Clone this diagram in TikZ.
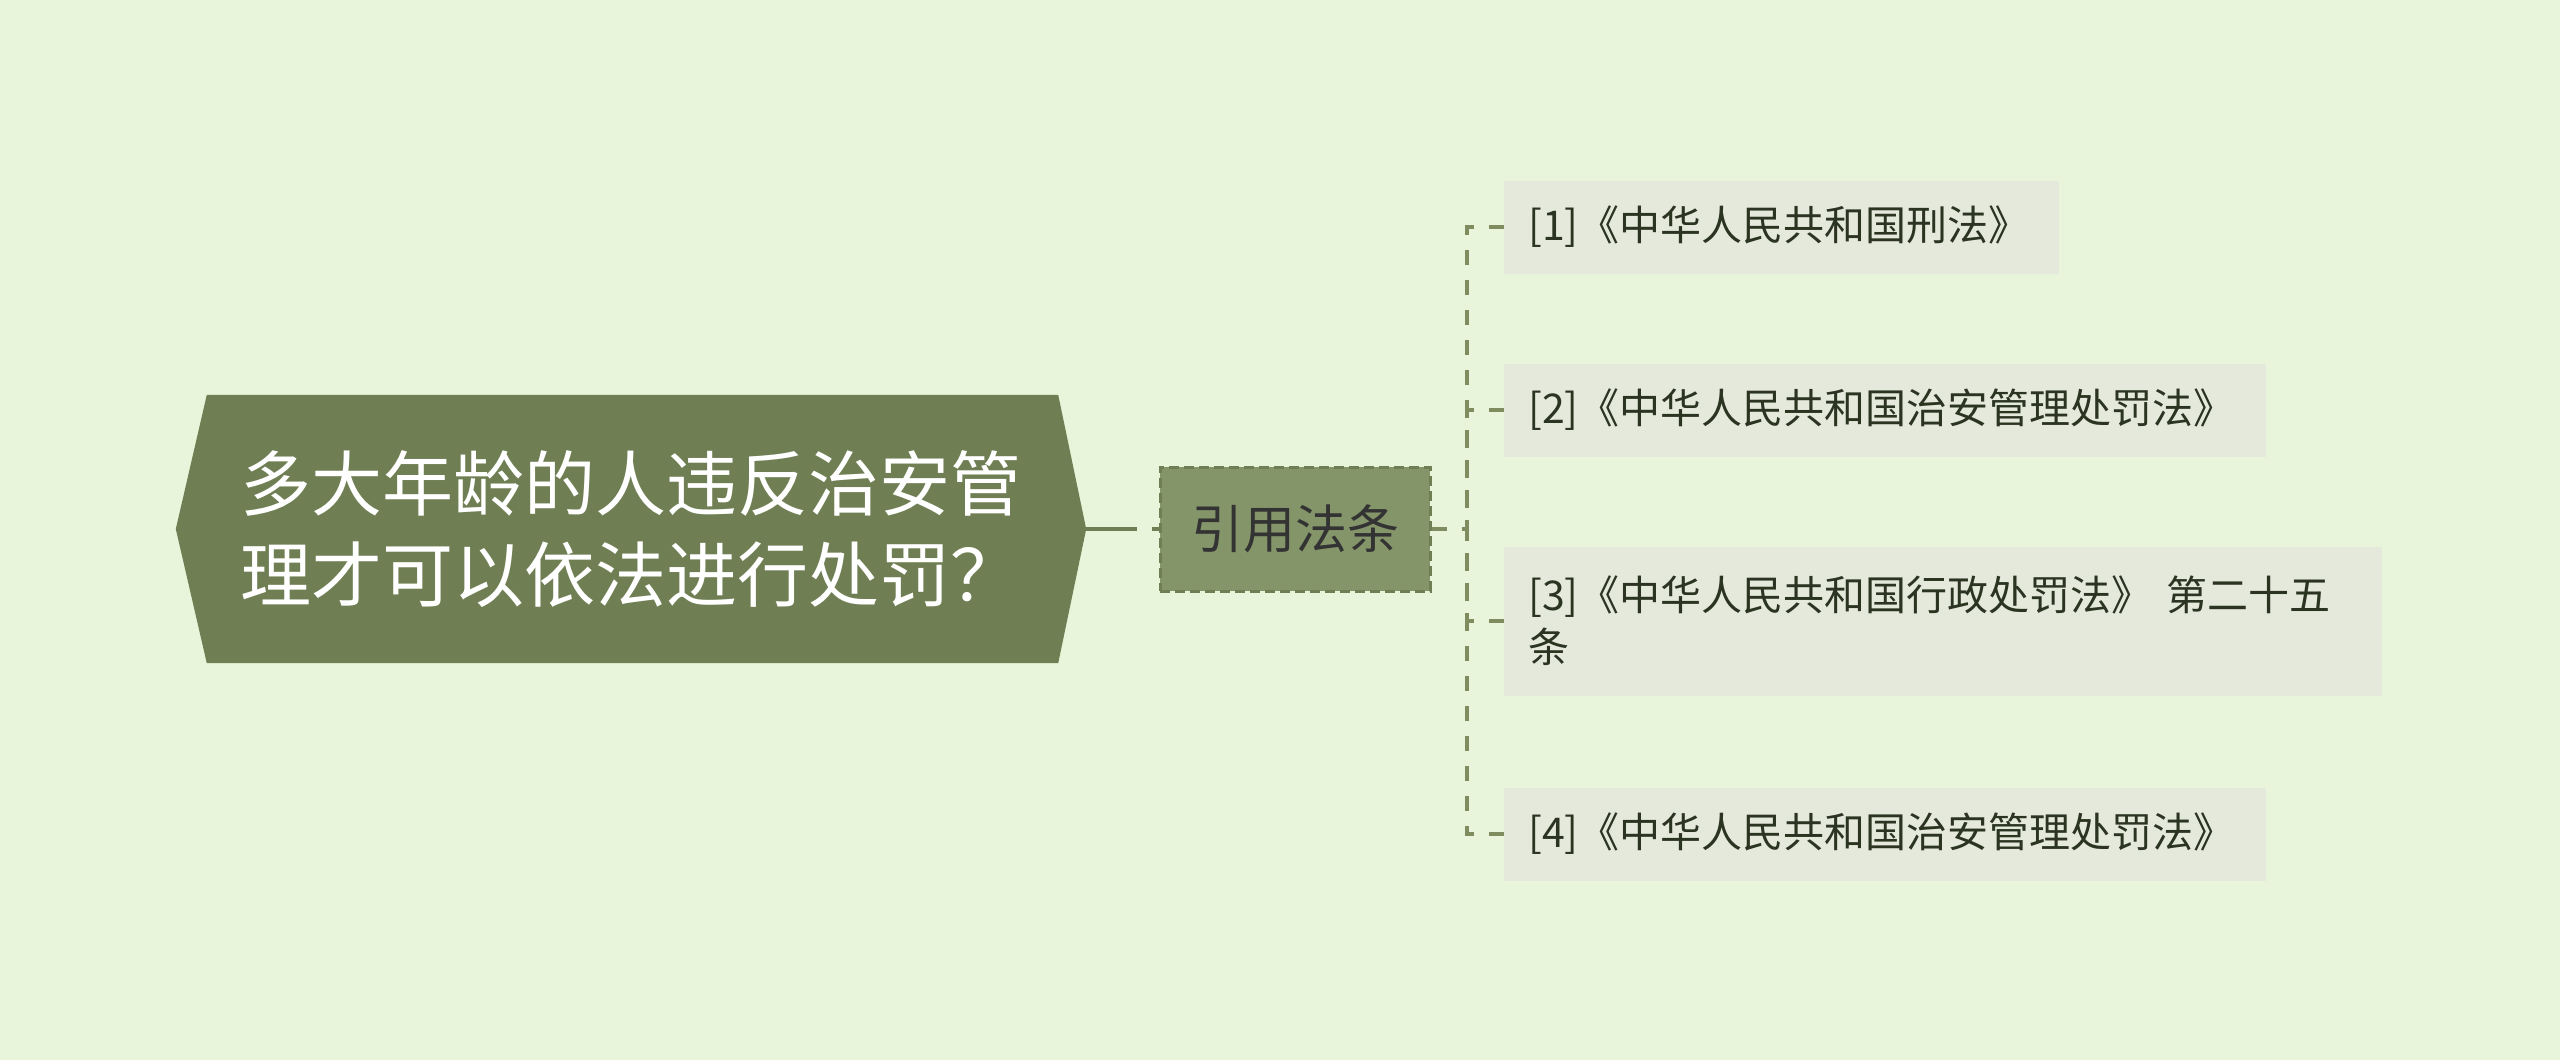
\documentclass[tikz,border=0pt]{standalone}
\usepackage{fontspec}
\setmainfont{Noto Sans CJK SC}
\usetikzlibrary{backgrounds}
\definecolor{bgc}{HTML}{E8F5DB}
\definecolor{mainc}{HTML}{6F7F53}
\definecolor{subc}{HTML}{84956A}
\definecolor{subline}{HTML}{6F7F53}
\definecolor{leafc}{HTML}{E5E9DC}
\definecolor{linec}{HTML}{7F8C60}
\definecolor{leaftext}{HTML}{2B3321}
\definecolor{subtext}{HTML}{333333}
\begin{document}
\begin{tikzpicture}[x=1pt,y=-1pt,
  mainbox/.style={text=white, font=\fontsize{71}{91}\selectfont, align=left,
    inner xsep=33pt, inner ysep=0pt, text width=785pt,
    minimum width=851pt, minimum height=268pt},
  subbox/.style={draw=subline, fill=subc, line width=3pt, dash pattern=on 10pt off 5pt,
    minimum width=270pt, minimum height=124pt, inner sep=0pt, text=subtext,
    font=\fontsize{52}{60}\selectfont},
  leafbox/.style={fill=leafc, anchor=west, inner xsep=24pt, inner ysep=0pt,
    minimum height=93pt, align=left, text=leaftext, font=\fontsize{41}{52}\selectfont},
  conn1/.style={draw=mainc, line width=4.5pt, dash pattern=on 51pt off 15pt},
  conn2/.style={draw=linec, line width=4pt, dash pattern=on 15pt off 15pt},
]
\useasboundingbox (0,0) rectangle (2560,1060);
\node[mainbox] (main) at (632.5,529) {多大年龄的人违反治安管\\理才可以依法进行处罚？};
\begin{scope}[on background layer]
  \fill[bgc] (0,0) rectangle (2560,1060);
  \fill[mainc] ([xshift=-31pt]main.west) -- (main.north west) -- (main.north east)
    -- ([xshift=28pt]main.east) -- (main.south east) -- (main.south west) -- cycle;
\end{scope}
\coordinate (mainE) at ([xshift=28pt]main.east);
\node[subbox] (sub) at (1295,529) {引用法条};
\node[leafbox, text width=507pt] (l1) at (1504,227) {[1]《中华人民共和国刑法》};
\node[leafbox, text width=714pt] (l2) at (1504,410) {[2]《中华人民共和国治安管理处罚法》};
\node[leafbox, text width=830pt, minimum height=149pt] (l3) at (1504,621) {[3]《中华人民共和国行政处罚法》 第二十五\\条};
\node[leafbox, text width=714pt] (l4) at (1504,834) {[4]《中华人民共和国治安管理处罚法》};
\coordinate (j) at (1467,529);
\draw[conn1] (mainE) -- (sub.west);
\draw[conn2] (sub.east) -- (j);
\foreach \n in {l1,l2,l3,l4} {\draw[conn2] (\n.west) -| (j);}
\end{tikzpicture}
\end{document}
